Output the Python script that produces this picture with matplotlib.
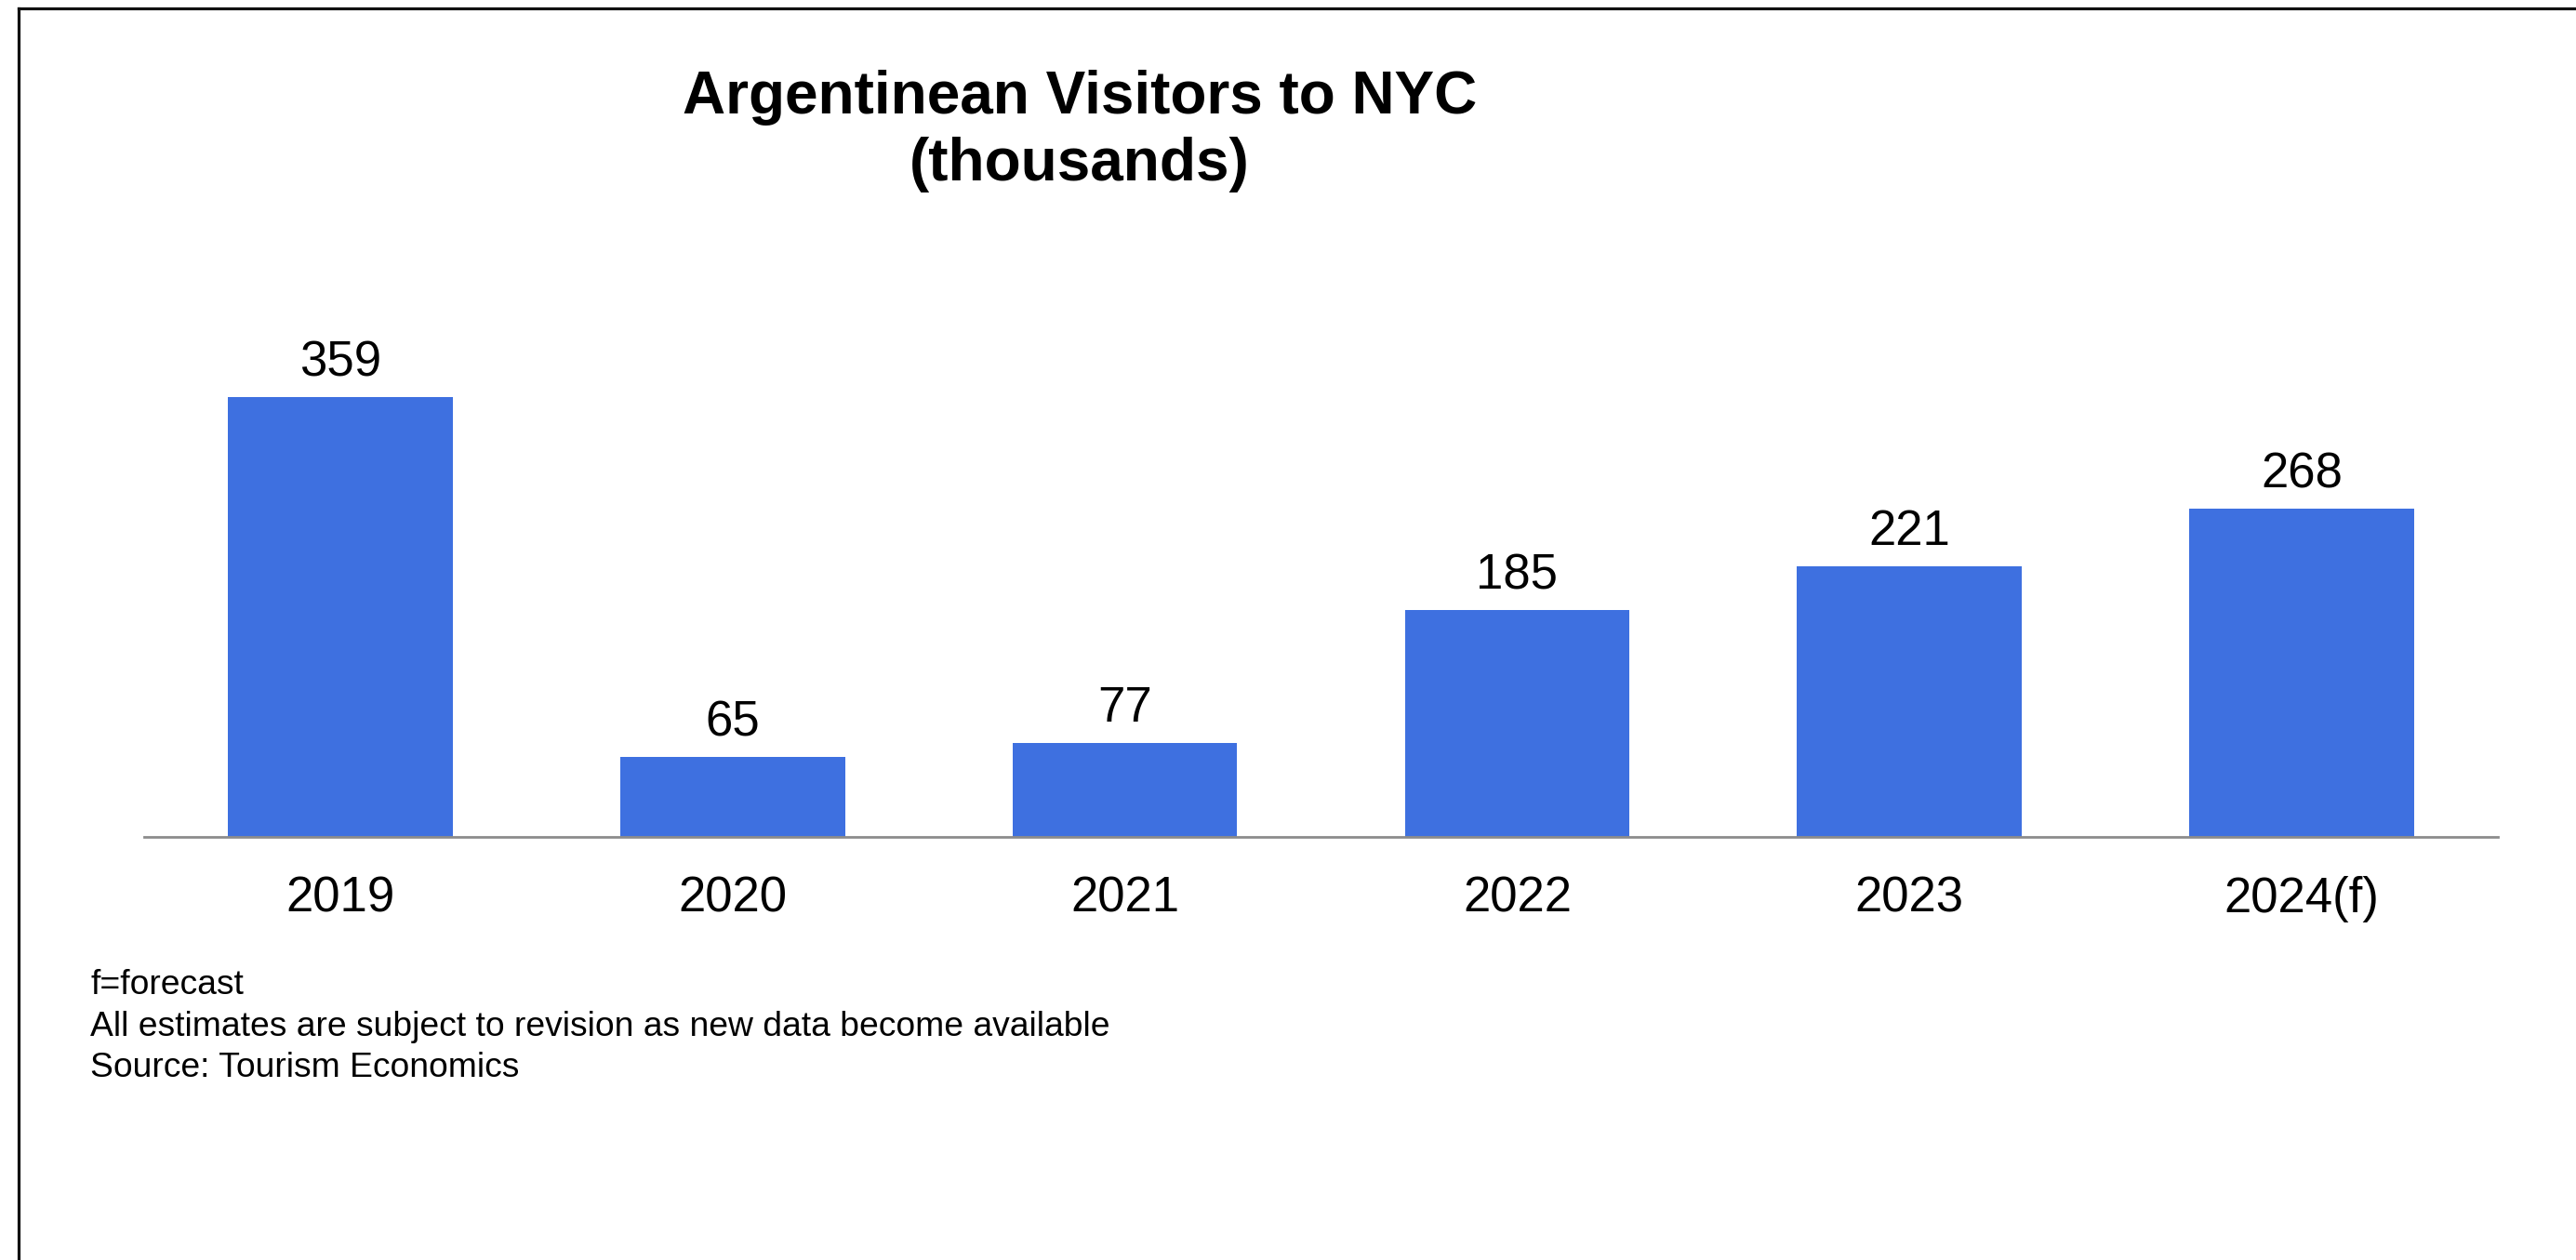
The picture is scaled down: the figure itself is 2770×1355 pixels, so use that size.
import matplotlib
matplotlib.use("Agg")
import matplotlib.pyplot as plt
from matplotlib.lines import Line2D

# Data
years = ["2019", "2020", "2021", "2022", "2023", "2024(f)"]
visitors = [359, 65, 77, 185, 221, 268]

title = "Argentinean Visitors to NYC\n(thousands)"
notes = [
    "f=forecast",
    "All estimates are subject to revision as new data become available",
    "Source: Tourism Economics",
]

W, H, DPI = 2770, 1355, 100
plt.rcParams["font.family"] = ["Liberation Sans", "DejaVu Sans"]

fig = plt.figure(figsize=(W / DPI, H / DPI), dpi=DPI, facecolor="white")

def fx(px):
    return px / W

def fy(py):
    return 1 - py / H

# Plot area: baseline at y=900, axis spans x=155..2686
ax_left, ax_right = 155, 2686
ax_bottom, ax_top = 900, 300
ax = fig.add_axes([fx(ax_left), fy(ax_bottom), fx(ax_right - ax_left),
                   (ax_bottom - ax_top) / H])

x = list(range(len(years)))
bars = ax.bar(x, visitors, width=0.573, color="#3E70E0", zorder=2)
ax.set_xlim(-0.5, len(years) - 0.5)
ax.set_ylim(0, (ax_bottom - ax_top) / 1.317)

for rect, v in zip(bars, visitors):
    ax.annotate(str(v), (rect.get_x() + rect.get_width() / 2, v),
                xytext=(0, 16.5), textcoords="offset points",
                ha="center", va="baseline", fontsize=38, color="black")

ax.set_xticks(x)
ax.set_xticklabels(years, fontsize=38)
ax.tick_params(axis="x", length=0, pad=30)
ax.set_yticks([])
for side in ("top", "right", "left"):
    ax.spines[side].set_visible(False)
ax.spines["bottom"].set_color("#8c8c8c")
ax.spines["bottom"].set_linewidth(2.0)
ax.set_facecolor("none")

# Title
fig.text(fx(1161), fy(141), title, ha="center", va="center",
         fontsize=46, fontweight="bold", linespacing=1.27)

# Footnotes
for i, line in enumerate(notes):
    fig.text(fx(97), fy(1069 + 44.5 * i), line, ha="left", va="baseline",
             fontsize=26.8, color="black")

# Frame lines along top and left edges
fig.add_artist(Line2D([fx(20), 1.0], [fy(9), fy(9)], color="#111111",
                      linewidth=2.3, transform=fig.transFigure))
fig.add_artist(Line2D([fx(20), fx(20)], [fy(9), 0.0], color="#111111",
                      linewidth=2.3, transform=fig.transFigure))

fig.savefig("out.png", dpi=DPI, facecolor="white")
